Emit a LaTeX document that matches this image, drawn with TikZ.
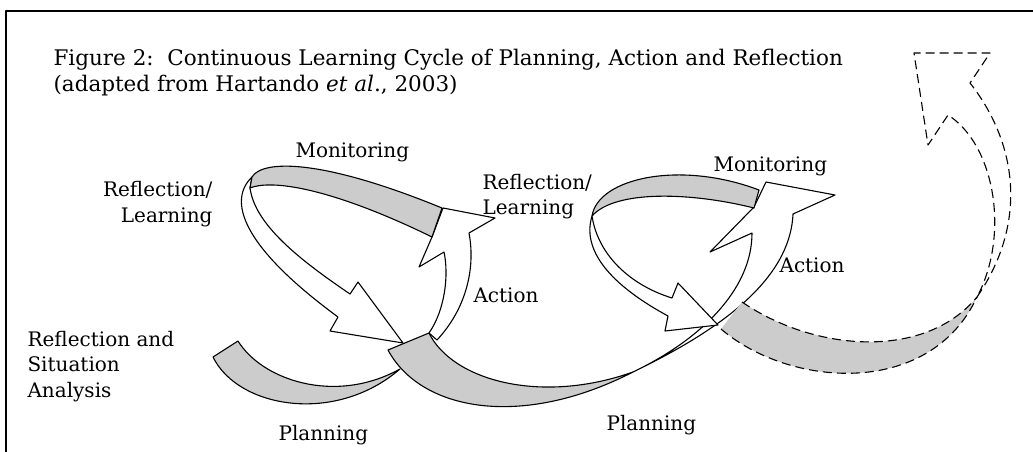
\documentclass[tikz,border=0pt]{standalone}
\usepackage{fontspec}
\setmainfont{DejaVu Serif}
\begin{document}
\begin{tikzpicture}[x=1pt,y=-1pt,line width=1.1pt,line join=round,
    band/.style={fill=gray!40,draw=black},
    strip/.style={fill=white,draw=black},
    dashline/.style={draw=black,dash pattern=on 9pt off 5pt},
    lbl/.style={inner sep=0pt,font=\fontsize{20}{26}\selectfont}]
  \useasboundingbox (0,0) rectangle (1033,452);
  \draw[line width=1.8pt] (6,452) -- (6,11) -- (1033,11);
  % caption
  \node[lbl,anchor=base west,font=\fontsize{21.5}{26}\selectfont] (cap1) at (53,66)
    {Figure 2:\ \ Continuous Learning Cycle of Planning, Action and Reflection};
  \node[lbl,anchor=base west,font=\fontsize{21.5}{26}\selectfont] (cap2) at (53,92)
    {(adapted from Hartando \textit{et al}., 2003)};
  % first loop
  \path[band] (213,357) -- (238,341) .. controls (262,380) and (335,405) .. (400,369)
    .. controls (335,425) and (238,408) .. (213,357) -- cycle;
  \path[strip] (252,177) .. controls (228,200) and (240,245) .. (338,317)
    -- (330,331) -- (403,343) -- (358,282) -- (350,294)
    .. controls (300,260) and (255,225) .. (250,188) -- cycle;
  \path[strip] (429,333) .. controls (445,310) and (449,275) .. (444,252)
    -- (419,267) -- (432,237) -- (443,208) -- (495,218) -- (469,233)
    .. controls (476,270) and (465,310) .. (437,340) -- cycle;
  \path[band] (252,177) .. controls (262,160) and (320,158) .. (442,208)
    -- (432,237) .. controls (340,192) and (275,178) .. (250,188) -- cycle;
  \path[band] (388,350) -- (429,333) .. controls (452,380) and (540,405) .. (633,372)
    .. controls (520,430) and (420,410) .. (388,350) -- cycle;
  % second loop
  \path[strip] (633,372) .. controls (720,330) and (790,280) .. (793,214)
    -- (835,195) -- (766,182) -- (754,207) -- (710,252) -- (752,233)
    .. controls (752,290) and (700,340) .. (633,372) -- cycle;
  \path[strip] (592,216) .. controls (580,255) and (620,290) .. (668,316)
    -- (665,331) -- (718,325) -- (678,283) -- (672,298)
    .. controls (630,285) and (598,255) .. (592,216) -- cycle;
  \path[band] (592,216) .. controls (598,178) and (680,160) .. (759,190)
    -- (754,208) .. controls (690,192) and (615,190) .. (592,216) -- cycle;
  % dashed continuation
  \fill[gray!40] (721,329) -- (742,302) .. controls (815,352) and (925,360) .. (977,297)
    .. controls (930,398) and (790,388) .. (721,329) -- cycle;
  \draw[dashline] (742,302) .. controls (815,352) and (925,360) .. (977,297);
  \draw[dashline] (721,329) .. controls (790,388) and (930,398) .. (977,297);
  \draw[dashline] (977,297) .. controls (1030,220) and (1015,140) .. (970,83)
    -- (990,53) -- (914,53) -- (928,145) -- (948,115)
    .. controls (995,145) and (1010,235) .. (977,297);
  % labels
  \node[lbl,anchor=base west] (mon1) at (295,157) {Monitoring};
  \node[lbl,anchor=base east,align=right] (refl1) at (213,222) {Reflection/\\Learning};
  \node[lbl,anchor=base west] (act1) at (473,302) {Action};
  \node[lbl,anchor=base west,align=left,font=\fontsize{20}{25.5}\selectfont] (sit) at (27,397)
    {Reflection and\\Situation\\Analysis};
  \node[lbl,anchor=base west] (plan1) at (278,440) {Planning};
  \node[lbl,anchor=base west,align=left,font=\fontsize{20}{25}\selectfont] (refl2) at (482,214)
    {Reflection/\\Learning};
  \node[lbl,anchor=base west] (mon2) at (713,171) {Monitoring};
  \node[lbl,anchor=base west] (act2) at (779,272) {Action};
  \node[lbl,anchor=base west] (plan2) at (606,430) {Planning};
\end{tikzpicture}
\end{document}
